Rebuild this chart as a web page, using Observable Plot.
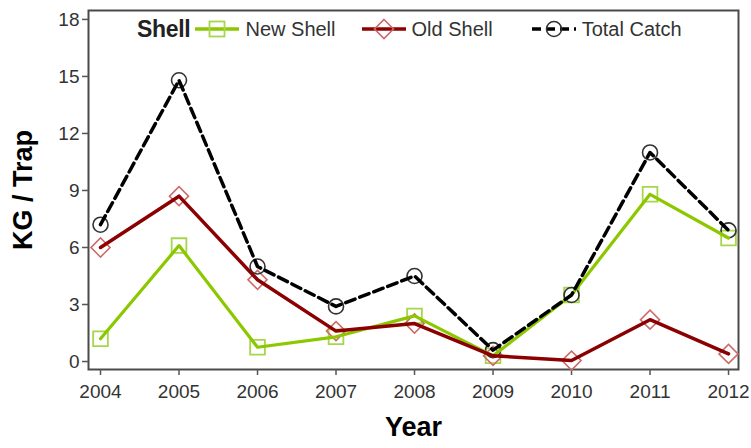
<!DOCTYPE html>
<html>
<head>
<meta charset="utf-8">
<script src="https://cdn.jsdelivr.net/npm/d3@7"></script>
<script src="https://cdn.jsdelivr.net/npm/@observablehq/plot@0.6"></script>
<style>
  body { margin: 0; background: #fff; }
  #wrap { position: relative; width: 751px; height: 448px; }
  g[aria-label="y-axis label"] text, g[aria-label="x-axis label"] text {
    font-family: "Liberation Sans", Arial, sans-serif; font-weight: bold; font-size: 27px; fill: #000;
  }
  g[aria-label="y-axis tick label"] text, g[aria-label="x-axis tick label"] text {
    font-family: "Liberation Sans", Arial, sans-serif; font-size: 19px; fill: #333;
  }
  #legend { position: absolute; left: 137px; top: 14px; height: 30px; display: flex; align-items: center;
    font-family: "Liberation Sans", Arial, sans-serif; font-size: 20px; color: #333; white-space: nowrap; }
  #legend .ttl { font-weight: bold; font-size: 23px; color: #222; margin-right: 5px; letter-spacing: -0.3px; }
  #legend svg { display: block; margin-right: 6px; }
  #legend .item { display: flex; align-items: center; }
</style>
</head>
<body>
<div id="wrap"></div>
<script>
const years = [2004, 2005, 2006, 2007, 2008, 2009, 2010, 2011, 2012];
const newShell = [1.2, 6.1, 0.75, 1.3, 2.4, 0.3, 3.5, 8.8, 6.5];
const oldShell = [6.0, 8.7, 4.3, 1.6, 2.0, 0.3, 0.05, 2.2, 0.4];
const totalCatch = [7.2, 14.8, 5.0, 2.9, 4.5, 0.6, 3.5, 11.0, 6.9];
const yTicks = [0, 3, 6, 9, 12, 15, 18];
const seriesNames = ["New Shell", "Old Shell", "Total Catch"];
const legendTitle = "Shell";

const GREEN = "#8cc800", GREEN_M = "#a6d64a";
const RED = "#8b0000", RED_M = "#cc6a6a";
const BLACK = "#000", BLACK_M = "#333";

const rows = (vals) => years.map((yr, i) => ({year: yr, value: vals[i]}));
const dNew = rows(newShell), dOld = rows(oldShell), dTot = rows(totalCatch);

const chart = Plot.plot({
  width: 751,
  height: 448,
  marginLeft: 88,
  marginRight: 13,
  marginTop: 10,
  marginBottom: 79,
  style: {background: "#fff", overflow: "visible"},
  x: {domain: [2003.847, 2012.127], ticks: years},
  y: {domain: [-0.42, 18.47], ticks: yTicks},
  marks: [
    Plot.frame({stroke: "#4a4a4a", strokeWidth: 2}),
    Plot.axisX({ticks: years, tickFormat: d => String(d), tickSize: 6, tickPadding: 9, stroke: "#555", strokeWidth: 1.5,
      label: "Year", labelAnchor: "center", labelOffset: 66, labelArrow: "none"}),
    Plot.axisY({ticks: yTicks, tickSize: 6, tickPadding: 3, stroke: "#555", strokeWidth: 1.5,
      label: "KG / Trap", labelAnchor: "center", labelOffset: 76, labelArrow: "none"}),
    Plot.dot(dNew, {x: "year", y: "value", symbol: "square", r: 8.3, stroke: GREEN_M, strokeWidth: 1.8, fill: "none"}),
    Plot.dot(dOld, {x: "year", y: "value", symbol: "square", rotate: 45, r: 7.6, stroke: RED_M, strokeWidth: 1.6, fill: "none"}),
    Plot.dot(dTot, {x: "year", y: "value", symbol: "circle", r: 7.5, stroke: BLACK_M, strokeWidth: 1.6, fill: "none"}),
    Plot.line(dNew, {x: "year", y: "value", stroke: GREEN, strokeWidth: 3.2}),
    Plot.line(dOld, {x: "year", y: "value", stroke: RED, strokeWidth: 3.5}),
    Plot.line(dTot, {x: "year", y: "value", stroke: BLACK, strokeWidth: 3.5, strokeDasharray: "10,5"})
  ]
});

const wrap = document.getElementById("wrap");
wrap.appendChild(chart);

// Legend (inside plot area, top)
const legend = document.createElement("div");
legend.id = "legend";
const ttl = document.createElement("span");
ttl.className = "ttl";
ttl.textContent = legendTitle;
legend.appendChild(ttl);
const swatches = [
  {line: GREEN, marker: GREEN_M, sym: "square", dash: null, gap: 26},
  {line: RED, marker: RED_M, sym: "diamond", dash: null, gap: 39},
  {line: BLACK, marker: BLACK_M, sym: "circle", dash: "9,5", gap: 0}
];
seriesNames.forEach((name, i) => {
  const s = swatches[i];
  const item = document.createElement("span");
  item.className = "item";
  item.style.marginRight = s.gap + "px";
  const svg = d3.create("svg").attr("width", 44).attr("height", 30);
  svg.append("line").attr("x1", 0).attr("x2", 44).attr("y1", 15).attr("y2", 15)
    .attr("stroke", s.line).attr("stroke-width", 3.5).attr("stroke-dasharray", s.dash);
  if (s.sym === "square") svg.append("rect").attr("x", 14.5).attr("y", 7.5).attr("width", 15).attr("height", 15).attr("fill", "none").attr("stroke", s.marker).attr("stroke-width", 1.8);
  if (s.sym === "diamond") svg.append("path").attr("d", "M22,5.5L31.5,15L22,24.5L12.5,15Z").attr("fill", "none").attr("stroke", s.marker).attr("stroke-width", 1.6);
  if (s.sym === "circle") svg.append("circle").attr("cx", 22).attr("cy", 15).attr("r", 7.5).attr("fill", "none").attr("stroke", s.marker).attr("stroke-width", 1.6);
  item.appendChild(svg.node());
  const t = document.createElement("span");
  t.textContent = name;
  item.appendChild(t);
  legend.appendChild(item);
});
wrap.appendChild(legend);
</script>
</body>
</html>
